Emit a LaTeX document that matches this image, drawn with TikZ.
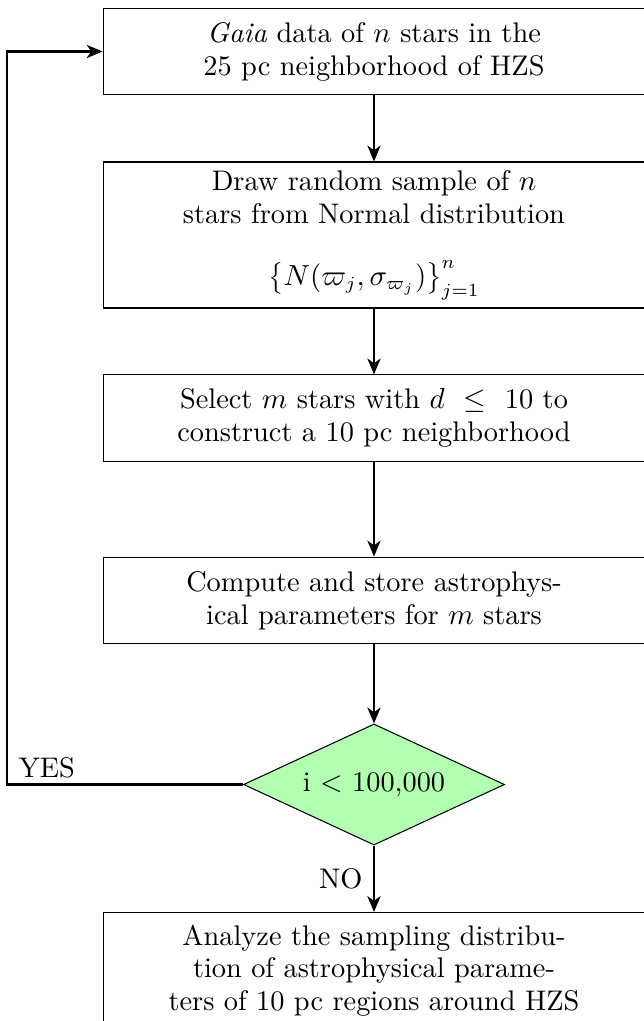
\documentclass[tikz,border=0pt]{standalone}
\usetikzlibrary{shapes.geometric,arrows.meta}
\begin{document}
\begin{tikzpicture}[x=0.3774pt,y=-0.3774pt,
  txt/.style={font=\fontsize{10.7pt}{12.4pt}\selectfont},
  procbox/.style={txt,draw,line width=0.4pt,minimum width=204.5pt,align=center,inner sep=0pt},
  decbox/.style={txt,draw,line width=0.4pt,diamond,aspect=2.16,fill=green!30,minimum width=98.5pt,minimum height=45.7pt,inner sep=0pt},
  conn/.style={line width=0.8pt,-{Stealth[length=6pt,width=5pt,inset=1.8pt]}},
  lbl/.style={txt,inner sep=0pt}]
\useasboundingbox (0,0) rectangle (644,1021);
\clip (0,0) rectangle (644,1021);
\node[procbox,minimum height=32.8pt] (b1) at (374,51.5) {\textit{Gaia} data of $n$ stars in the\\25 pc neighborhood of HZS};
\node[procbox,minimum height=55.1pt] (b2) at (374,235) {Draw random sample of $n$\\stars from Normal distribution\\[11pt]$\left\{N(\varpi_j,\sigma_{\varpi_j})\right\}_{j=1}^{n}$};
\node[procbox,minimum height=32.5pt] (b3) at (374,418) {Select $m$ stars with $d$ \ $\leq$ \ 10 to\\construct a 10 pc neighborhood};
\node[procbox,minimum height=32.8pt] (b4) at (374,600.5) {Compute and store astrophys-\\ical parameters for $m$ stars};
\node[decbox] (d) at (374,784.5) {i $<$ 100,000};
\node[procbox,inner ysep=4.6pt,text depth=36pt,anchor=north] (b5) at (374,912) {Analyze the sampling distribu-\\tion of astrophysical parame-\\ters of 10 pc regions around HZS};
\coordinate (c1) at (7,784.5);
\coordinate (c2) at (7,51.5);
\draw[conn] (b1) -- (b2);
\draw[conn] (b2) -- (b3);
\draw[conn] (b3) -- (b4);
\draw[conn] (b4) -- (d);
\draw[conn] (d) -- (b5) node[lbl,midway,left=4pt] (no) {NO};
\draw[conn] (d.west) -- (c1) -- (c2) -- (b1.west);
\node[lbl,anchor=base west] (yes) at (18,777) {YES};
\end{tikzpicture}
\end{document}
